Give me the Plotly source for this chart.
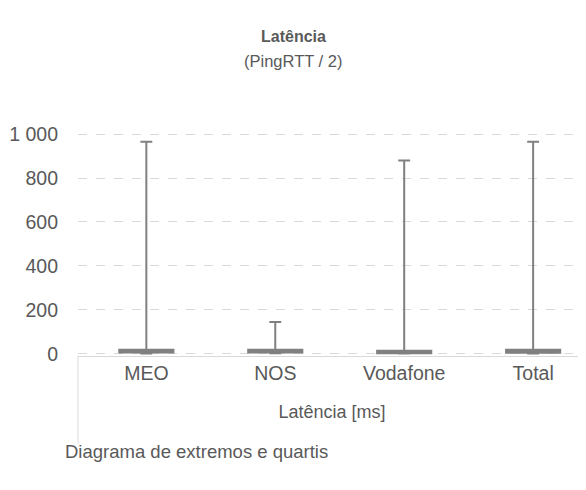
import plotly.graph_objects as go

categories = ["MEO", "NOS", "Vodafone", "Total"]
minimum = [1, 2, 1, 1]
q1 = [6, 6, 3, 5]
median = [10, 10, 8, 10]
q3 = [18, 18, 14, 18]
maximum = [965, 145, 880, 965]

FONT = "Liberation Sans, Arial"
TXT = "#595959"
GRAY = "#808080"

# screen plot area: x 78..586, y 134..356
def py(pix):
    return (356 - pix) / 222.0

def px(pix):
    return (pix - 78) / 508.0

fig = go.Figure()
fig.add_trace(go.Box(
    x=categories, q1=q1, median=median, q3=q3,
    lowerfence=minimum, upperfence=maximum,
    fillcolor=GRAY, line=dict(color=GRAY, width=2),
    width=0.42, whiskerwidth=0.22, boxpoints=False,
    showlegend=False, hoverinfo="skip",
))

fig.update_layout(
    width=586, height=490,
    margin=dict(l=70, r=8, t=125, b=142, autoexpand=False),
    paper_bgcolor="white", plot_bgcolor="white",
    separators=", ",
    font=dict(family=FONT, color=TXT, size=18),
    xaxis=dict(
        type="category", range=[-0.53, 3.41], automargin=False,
        showline=True, linecolor="#d9d9d9", linewidth=1,
        showgrid=False, ticks="", ticklabelstandoff=0,
        tickfont=dict(size=19.5, color=TXT),
        title=dict(text="Latência [ms]", font=dict(size=18, color=TXT), standoff=21),
    ),
    yaxis=dict(
        range=[-10, 1005], tickvals=[0, 200, 400, 600, 800, 1000], automargin=False,
        tickformat=",d", showgrid=True, gridcolor="#d9d9d9", griddash="dash",
        gridwidth=1, zeroline=False, showline=False, ticks="",
        ticklabelstandoff=19,
        tickfont=dict(size=19.5, color=TXT),
    ),
    shapes=[dict(
        type="line", xref="paper", yref="paper",
        x0=0, x1=0, y0=0, y1=py(443),
        line=dict(color="#d9d9d9", width=1),
    )],
    annotations=[
        dict(text="<b>Latência</b>", xref="paper", yref="paper",
             x=px(293.5), y=py(38), xanchor="center", yanchor="middle",
             showarrow=False, font=dict(family=FONT, size=16, color=TXT)),
        dict(text="(PingRTT / 2)", xref="paper", yref="paper",
             x=px(292.5), y=py(62), xanchor="center", yanchor="middle",
             showarrow=False, font=dict(family=FONT, size=16.5, color=TXT)),
        dict(text="Diagrama de extremos e quartis", xref="paper", yref="paper",
             x=px(63), y=py(451), xanchor="left", yanchor="middle",
             showarrow=False, font=dict(family=FONT, size=18.5, color=TXT)),
    ],
)

fig.write_html("out.html")
